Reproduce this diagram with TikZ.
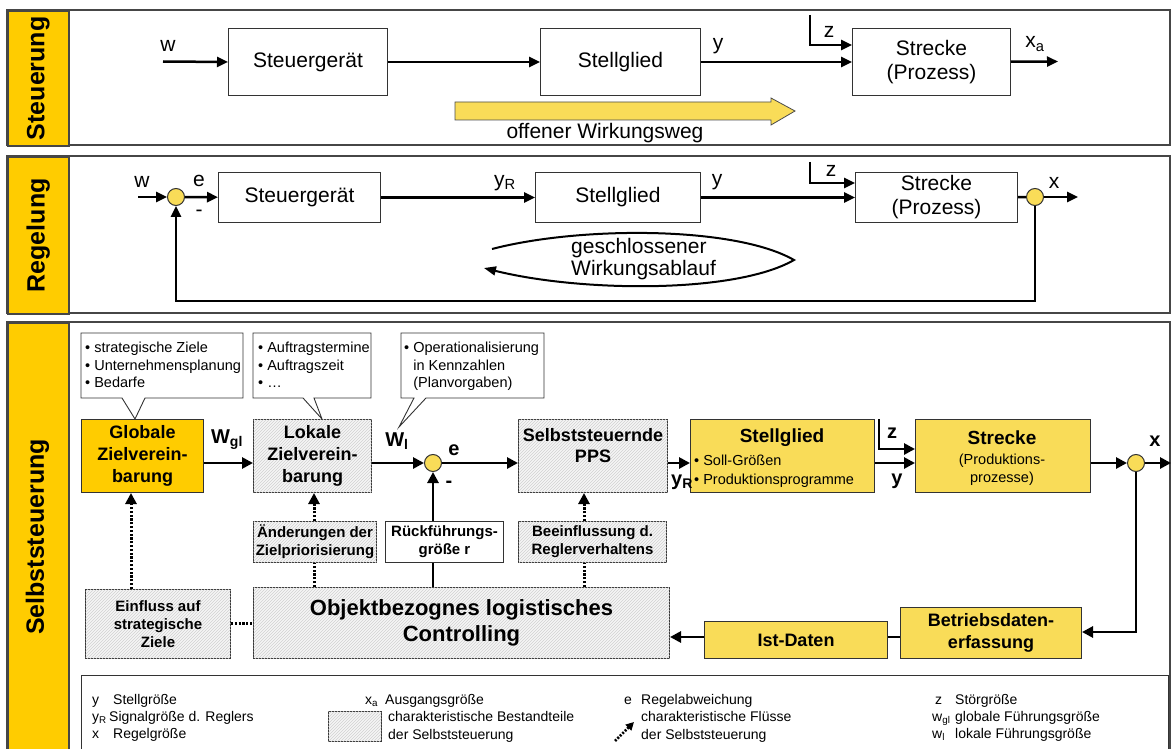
\documentclass[tikz,border=0pt]{standalone}
\usepackage{fontspec}
\setmainfont{Liberation Sans}
\usetikzlibrary{arrows.meta,patterns,calc}
\definecolor{gold}{RGB}{255,204,0}
\definecolor{lyel}{RGB}{249,220,88}
\definecolor{frame}{RGB}{70,70,70}
\definecolor{hbg}{RGB}{246,246,246}
\newcommand\fsz[2]{\fontsize{#1}{#2}\selectfont}
\begin{document}
\begin{tikzpicture}[x=1pt,y=-1pt,
  panel/.style={draw=frame, line width=1.6pt},
  strip/.style={fill=gold, draw=frame, line width=1.6pt, inner sep=0pt, anchor=north west},
  striplabel/.style={rotate=90, font=\bfseries\fsz{25}{30}, inner sep=0pt},
  box/.style={draw=black!80, line width=1pt, fill=white, inner sep=0pt, align=center, anchor=north west, font=\fsz{21}{24}},
  sbox/.style={box, font=\bfseries\fsz{18}{22}},
  ybox/.style={sbox, fill=lyel},
  gbox/.style={sbox, fill=gold},
  hbox/.style={sbox, fill=hbg, postaction={pattern=north east lines, pattern color=black!18}},
  lbl/.style={font=\fsz{21}{22}, inner sep=0pt},
  blbl/.style={font=\bfseries\fsz{20}{22}, inner sep=0pt},
  arr/.style={line width=2.5pt, -{Triangle[length=11pt,width=10pt]}},
  arrb/.style={line width=2.8pt, -{Triangle[length=11pt,width=11pt]}},
  lineb/.style={line width=2.8pt},
  dotl/.style={line width=3pt, dash pattern=on 2.2pt off 1.6pt},
  dota/.style={dotl, -{Triangle[length=11pt,width=11pt]}},
  junc/.style={circle, draw=black!80, line width=1pt, fill=lyel, minimum size=17pt, inner sep=0pt},
  callout/.style={fill=white, draw=black!80, line width=0.9pt},
  small/.style={font=\fsz{14.5}{17.5}, align=left, inner sep=0pt, anchor=north west},
  leg/.style={font=\fsz{14}{17}, inner sep=0pt, anchor=base west}
]
\useasboundingbox (0,0) rectangle (1171,749);

% ---------------- Panel 1: Steuerung ----------------
\draw[panel] (7,10) rectangle (1170,145);
\node[strip, minimum width=61pt, minimum height=135pt] (p1) at (7,10) {};
\node[striplabel] (p1t) at (p1.center) {Steuerung};

\node[box, minimum width=159pt, minimum height=67pt] (sg1) at (228,28) {Steuergerät};
\node[box, minimum width=160pt, minimum height=67pt] (st1) at (540,28) {Stellglied};
\node[box, minimum width=158pt, minimum height=67pt] (sk1) at (852,28) {Strecke\\(Prozess)};
\coordinate (w1) at (163,61.5);
\coordinate (z1) at (810,15);
\coordinate (xa1) at (1058,61.5);
\draw[arr] (w1) -- (sg1.west);
\draw[arr] (sg1) -- (st1);
\draw[arr] (st1) -- (sk1);
\draw[arr] (z1) |- (sk1.west |- 0,45);
\draw[arr] (sk1) -- (xa1);
\node[lbl] (lw1) at (168,46) {w};
\node[lbl] (ly1) at (718,46) {y};
\node[lbl] (lz1) at (829,32) {z};
\node[lbl] (lxa1) at (1035,44) {x\textsubscript{a}};
\draw[fill=lyel, draw=black!70, line width=0.8pt]
  (455,102) -- (771,102) -- (771,98) -- (795,111) -- (771,125) -- (771,120) -- (455,120) -- cycle;
\node[lbl] (ow) at (605,133) {offener Wirkungsweg};

% ---------------- Panel 2: Regelung ----------------
\draw[panel] (7,156) rectangle (1170,313);
\node[strip, minimum width=61pt, minimum height=157pt] (p2) at (7,156) {};
\node[striplabel] (p2t) at (p2.center) {Regelung};

\node[junc] (j2a) at (176,197) {};
\node[box, minimum width=162pt, minimum height=50pt] (sg2) at (218,172) {Steuergerät};
\node[box, minimum width=165pt, minimum height=50pt] (st2) at (535,172) {Stellglied};
\node[box, minimum width=162pt, minimum height=50pt] (sk2) at (855,172) {Strecke\\(Prozess)};
\node[junc] (j2b) at (1035,197) {};
\coordinate (w2) at (138,197);
\coordinate (z2) at (810,162);
\coordinate (x2) at (1078,197);
\coordinate (fb2) at (1035,301);
\coordinate (fb2b) at (176,301);
\draw[arr] (w2) -- (j2a);
\draw[arr] (j2a) -- (sg2);
\draw[arr] (sg2) -- (st2);
\draw[arr] (st2) -- (sk2);
\draw[arr] (z2) |- (sk2.west |- 0,183);
\draw[line width=2.5pt] (sk2) -- (j2b);
\draw[arr] (j2b) -- (x2);
\draw[arr] (j2b) -- (fb2) -- (fb2b) -- (j2a);
\node[lbl] (lw2) at (142,182) {w};
\node[lbl] (le2) at (199,181) {e};
\node[lbl] (lm2) at (199,213) {-};
\node[lbl] (lyr2) at (505,183) {y\textsubscript{R}};
\node[lbl] (ly2) at (717,182) {y};
\node[lbl] (lz2) at (831,171) {z};
\node[lbl] (lx2) at (1054,183) {x};
\draw[line width=2pt, -{Triangle[length=12pt,width=9pt]}]
  (492,249) .. controls (580,226) and (735,226) .. (794,260)
  .. controls (735,294) and (580,292) .. (484,268);
\node[lbl, align=left, anchor=west] (gw) at (571,259) {geschlossener\\Wirkungsablauf};

% ---------------- Panel 3: Selbststeuerung ----------------
\draw[panel] (7,322) rectangle (1170,756);
\node[strip, minimum width=61pt, minimum height=434pt] (p3) at (7,322) {};
\node[striplabel] (p3t) at (7+30.5,537) {Selbststeuerung};

% callouts
\draw[callout] (81,333) -- (243,333) -- (243,398) -- (145,398) -- (135,419) -- (122,398) -- (81,398) -- cycle;
\node[small] (c1) at (85,342) {• strategische Ziele\\• Unternehmensplanung\\• Bedarfe};
\draw[callout] (253,333) -- (371,333) -- (371,398) -- (314,398) -- (322,419) -- (303,398) -- (253,398) -- cycle;
\node[small] (c2) at (258,342) {• Auftragstermine\\• Auftragszeit\\• …};
\draw[callout] (401,333) -- (544,333) -- (544,398) -- (426,398) -- (399,427) -- (414,398) -- (401,398) -- cycle;
\node[small] (c3) at (404,342) {• Operationalisierung\\\phantom{• }in Kennzahlen\\\phantom{• }(Planvorgaben)};

% main row
\node[gbox, minimum width=122pt, minimum height=73pt] (glob) at (81,419) {Globale\\Zielverein-\\barung};
\node[hbox, minimum width=118pt, minimum height=73pt] (lok) at (253,419) {Lokale\\Zielverein-\\barung};
\node[junc] (j3a) at (433,463) {};
\node[hbox, minimum width=149pt, minimum height=73pt] (pps) at (518,419) {};
\node[font=\bfseries\fsz{18}{21}, align=center, inner sep=0pt, anchor=north] (ppst) at ($(pps.north)+(0,9)$) {Selbststeuernde\\PPS};
\node[ybox, minimum width=184pt, minimum height=73pt] (stg) at (690,419) {};
\node[font=\bfseries\fsz{19}{22}, inner sep=0pt] (stgt) at (782,438) {Stellglied};
\node[small, font=\fsz{14.5}{19}] (stgb) at (694,455) {• Soll-Größen\\• Produktionsprogramme};
\node[ybox, minimum width=175pt, minimum height=73pt] (str) at (915,419) {};
\node[font=\bfseries\fsz{19}{22}, inner sep=0pt] (strt) at (1002,438) {Strecke};
\node[font=\fsz{14.5}{18}, align=center, inner sep=0pt] (strb) at (1002,470) {(Produktions-\\prozesse)};
\node[junc] (j3b) at (1136,463) {};
\coordinate (z3) at (879,419);
\coordinate (x3) at (1171,463);

\draw[arrb] (glob.east |- j3a) -- (lok.west |- j3a);
\draw[arrb] (lok.east |- j3a) -- (j3a);
\draw[arrb] (j3a) -- (pps.west |- j3a);
\draw[arrb] (pps.east |- j3a) -- (stg.west |- j3a);
\draw[arrb] (stg.east |- j3a) -- (str.west |- j3a);
\draw[arrb] (z3) |- (str.west |- 0,449);
\draw[arrb] (str.east |- j3b) -- (j3b);
\draw[arrb] (j3b) -- (x3);

\node[blbl] (lwgl) at (227,440) {W\textsubscript{gl}};
\node[blbl] (lwl) at (397,441) {W\textsubscript{l}};
\node[blbl] (le3) at (454,450) {e};
\node[blbl] (lm3) at (449,484) {-};
\node[blbl] (lyr3) at (682,482) {y\textsubscript{R}};
\node[blbl] (lz3) at (892,433) {z};
\node[blbl] (ly3) at (897,481) {y};
\node[blbl] (lx3) at (1155,441) {x};

% lower row
\node[hbox, minimum width=123pt, minimum height=41pt, font=\bfseries\fsz{15}{18}] (aend) at (253,521) {Änderungen der\\Zielpriorisierung};
\node[box, minimum width=118pt, minimum height=41pt, font=\bfseries\fsz{15}{18}] (rueck) at (385,521) {Rückführungs-\\größe r};
\node[hbox, minimum width=148pt, minimum height=41pt, font=\bfseries\fsz{15}{18}] (beein) at (518,521) {Beeinflussung d.\\Reglerverhaltens};
\node[hbox, minimum width=416pt, minimum height=71pt, font=\bfseries\fsz{22}{26}] (ctrl) at (253,587) {Objektbezognes logistisches\\Controlling};
\node[hbox, minimum width=145pt, minimum height=69pt, font=\bfseries\fsz{15}{18}] (einf) at (85,589) {Einfluss auf\\strategische\\Ziele};
\node[ybox, minimum width=183pt, minimum height=37pt] (ist) at (704,621) {Ist-Daten};
\node[ybox, minimum width=181pt, minimum height=51pt] (bde) at (900,607) {Betriebsdaten-\\erfassung};

\draw[dota] (einf.north -| 131,0) -- (glob.south -| 131,0);
\draw[dota] (aend.north -| 314,0) -- (lok.south -| 314,0);
\draw[dotl] (ctrl.north -| 314,0) -- (aend.south -| 314,0);
\draw[lineb] (ctrl.north -| j3a) -- (rueck.south -| j3a);
\draw[arrb] (rueck.north -| j3a) -- (j3a);
\draw[dotl] (ctrl.north -| 584,0) -- (beein.south -| 584,0);
\draw[dota] (beein.north -| 584,0) -- (pps.south -| 584,0);
\draw[dotl] (einf.east |- 0,623) -- (ctrl.west |- 0,623);

\draw[arrb] (j3b) |- (bde.east |- 0,632);
\draw[lineb] (bde.west |- 0,637) -- (ist.east |- 0,637);
\draw[arrb] (ist.west |- 0,637) -- (ctrl.east |- 0,637);

% legend
\node[draw=black!80, line width=1pt, minimum width=1087pt, minimum height=95pt, anchor=north west, inner sep=0pt] (legend) at (81,675) {};
\node[leg] (l1a) at (92,704) {y};
\node[leg] (l1b) at (113,704) {Stellgröße};
\node[leg] (l2a) at (92,721) {y\textsubscript{R}};
\node[leg] (l2b) at (109,721) {Signalgröße d. Reglers};
\node[leg] (l3a) at (92,738) {x};
\node[leg] (l3b) at (113,738) {Regelgröße};
\node[leg] (l4a) at (365,704) {x\textsubscript{a}};
\node[leg] (l4b) at (385,704) {Ausgangsgröße};
\node[draw=black!80, line width=0.8pt, fill=hbg, postaction={pattern=north east lines, pattern color=black!18}, minimum width=53pt, minimum height=30pt, anchor=north west, inner sep=0pt] (lhatch) at (328,711) {};
\node[leg] (l5a) at (388,721) {charakteristische Bestandteile};
\node[leg] (l5b) at (388,739) {der Selbststeuerung};
\node[leg] (l6a) at (624,704) {e};
\node[leg] (l6b) at (641,704) {Regelabweichung};
\coordinate (fl1) at (615,741);
\coordinate (fl2) at (634,722);
\draw[line width=2.5pt, dash pattern=on 2pt off 1.5pt, -{Triangle[length=8pt,width=8pt]}] (fl1) -- (fl2);
\node[leg] (l7a) at (641,721) {charakteristische Flüsse};
\node[leg] (l7b) at (641,739) {der Selbststeuerung};
\node[leg] (l8a) at (935,704) {z};
\node[leg] (l8b) at (955,704) {Störgröße};
\node[leg] (l9a) at (932,721) {w\textsubscript{gl}};
\node[leg] (l9b) at (955,721) {globale Führungsgröße};
\node[leg] (l10a) at (932,738) {w\textsubscript{l}};
\node[leg] (l10b) at (955,738) {lokale Führungsgröße};
\end{tikzpicture}
\end{document}
